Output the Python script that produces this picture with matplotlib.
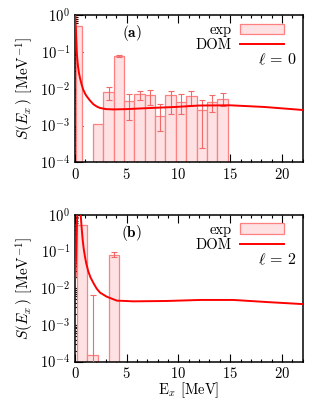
import numpy as np
import matplotlib
matplotlib.use("Agg")
import matplotlib.pyplot as plt
from matplotlib.ticker import MultipleLocator, LogLocator, NullFormatter

plt.rcParams['font.family'] = ['cmr10', 'DejaVu Serif']
plt.rcParams['mathtext.fontset'] = 'cm'
plt.rcParams['axes.formatter.use_mathtext'] = True
plt.rcParams['font.size'] = 10.5

# l = 0 : experimental bins (left edge, right edge), strength, error bounds
a_left = [0.1, 1.72, 2.75, 3.75, 4.75, 5.75, 6.75, 7.75, 8.75, 9.75, 10.75, 11.75, 12.75, 13.75]
a_right = [0.72, 2.75, 3.75, 4.75, 5.75, 6.75, 7.75, 8.75, 9.75, 10.75, 11.75, 12.75, 13.75, 14.8]
a_val = [0.50, 1.07e-3, 8.0e-3, 0.079, 4.6e-3, 7.0e-3, 6.6e-3, 1.8e-3, 6.6e-3, 4.4e-3, 6.3e-3, 2.6e-3, 4.4e-3, 5.4e-3]
a_hi = [np.nan, np.nan, 1.1e-2, 0.084, 7.2e-3, 8.9e-3, 9.5e-3, 3.9e-3, 8.9e-3, 7.0e-3, 8.6e-3, 4.8e-3, 6.7e-3, 7.7e-3]
a_lo = [np.nan, np.nan, 4.9e-3, 0.075, 1.38e-3, 4.9e-3, 3.7e-3, 7e-4, 2.1e-3, 2.1e-3, 3.6e-3, 2.5e-4, 2.4e-3, 3.4e-3]

# l = 2
b_left = [0.2, 1.2, 3.25]
b_right = [1.2, 2.25, 4.25]
b_val = [0.53, 1.5e-4, 0.081]
b_hi = [np.nan, 6.6e-3, 0.096]
b_lo = [np.nan, 1e-6, 0.069]

# DOM curves
dom_a_E = [0.02, 0.06, 0.1, 0.15, 0.2, 0.3, 0.4, 0.5, 0.65, 0.8, 1.0, 1.13, 1.45, 1.78, 2.1, 2.43, 3.0, 3.7, 5.0, 7.3, 9.7, 12.0, 15.0, 18.3, 22.0]
dom_a_S = [1.5, 0.7, 0.36, 0.16, 0.08, 0.04, 0.026, 0.019, 0.013, 9.5e-3, 7.2e-3, 6.3e-3, 4.8e-3, 3.8e-3, 3.3e-3, 3.0e-3, 2.8e-3, 2.75e-3, 2.8e-3, 3.0e-3, 3.2e-3, 3.5e-3, 3.55e-3, 3.2e-3, 2.65e-3]

dom_b_E = [0.05, 0.1, 0.15, 0.2, 0.25, 0.35, 0.45, 0.55, 0.65, 0.75, 0.85, 0.97, 1.1, 1.29, 1.5, 1.78, 2.1, 2.43, 3.07, 4.05, 5.66, 8.9, 12.1, 15.3, 18.6, 22.0]
dom_b_S = [0.02, 0.06, 0.2, 0.6, 1.5, 3.0, 2.2, 1.1, 0.45, 0.21, 0.12, 0.073, 0.047, 0.029, 0.02, 0.014, 0.0098, 7.6e-3, 5.9e-3, 4.6e-3, 4.4e-3, 4.5e-3, 4.8e-3, 4.8e-3, 4.2e-3, 3.7e-3]

fill_c = '#fde1e3'
edge_c = '#ff8080'
err_c = '#f06a6a'
line_c = '#ff0000'

fig = plt.figure(figsize=(3.3, 4.0), dpi=100)
ax_a = fig.add_axes([0.227, 0.594, 0.690, 0.3683])
ax_b = fig.add_axes([0.227, 0.096, 0.690, 0.3667])


def draw_panel(ax, left, right, val, hi, lo, dom_E, dom_S, tag, ell):
    left = np.array(left)
    right = np.array(right)
    val = np.array(val)
    hi = np.array(hi)
    lo = np.array(lo)
    ax.set_yscale('log')
    centers = (left + right) / 2
    widths = right - left
    bars = ax.bar(centers, val, width=widths, color=fill_c, edgecolor=edge_c,
                  linewidth=0.9, label='exp', zorder=2)
    m = ~np.isnan(hi)
    ax.errorbar(centers[m], val[m], yerr=[val[m] - lo[m], hi[m] - val[m]],
                fmt='none', ecolor=err_c, elinewidth=0.8, capsize=2.3,
                capthick=0.8, zorder=3)
    line, = ax.plot(dom_E, dom_S, color=line_c, lw=1.4, label='DOM', zorder=4)

    ax.set_xlim(0, 22)
    ax.set_ylim(1e-4, 1)
    ax.xaxis.set_major_locator(MultipleLocator(5))
    ax.xaxis.set_minor_locator(MultipleLocator(1))
    ax.yaxis.set_major_locator(LogLocator(base=10, numticks=10))
    ax.yaxis.set_minor_locator(LogLocator(base=10, subs=np.arange(2, 10), numticks=10))
    ax.yaxis.set_minor_formatter(NullFormatter())
    ax.tick_params(which='both', direction='in', top=True, right=False, width=0.8,
                   labelsize=10.5)
    ax.tick_params(which='major', length=6)
    ax.tick_params(which='minor', length=2.5)
    for s in ax.spines.values():
        s.set_linewidth(1.1)
    ax.set_axisbelow(True)
    ax.set_ylabel(r'$S(E_x\,)$ [MeV$^{\mathrm{-1}}$]', fontsize=11, labelpad=3)

    ax.legend([bars, line], ['exp', 'DOM'], loc='upper right',
              bbox_to_anchor=(0.918, 0.945), frameon=False, markerfirst=False,
              borderpad=0, borderaxespad=0, handlelength=3.0, handletextpad=0.6,
              labelspacing=0.12, fontsize=10.5)
    ax.text(0.25, 0.875, r'$\mathbf{(' + tag + ')}$', transform=ax.transAxes,
            ha='center', va='center', fontsize=11)
    ax.text(0.975, 0.695, r'$\ell\,=\,' + ell + '$', transform=ax.transAxes,
            ha='right', va='center', fontsize=11.5)


draw_panel(ax_a, a_left, a_right, a_val, a_hi, a_lo, dom_a_E, dom_a_S, 'a', '0')
draw_panel(ax_b, b_left, b_right, b_val, b_hi, b_lo, dom_b_E, dom_b_S, 'b', '2')
ax_b.set_xlabel(r'E$_x$ [MeV]', fontsize=10.5, labelpad=-1)

fig.savefig('out.png', dpi=100)
